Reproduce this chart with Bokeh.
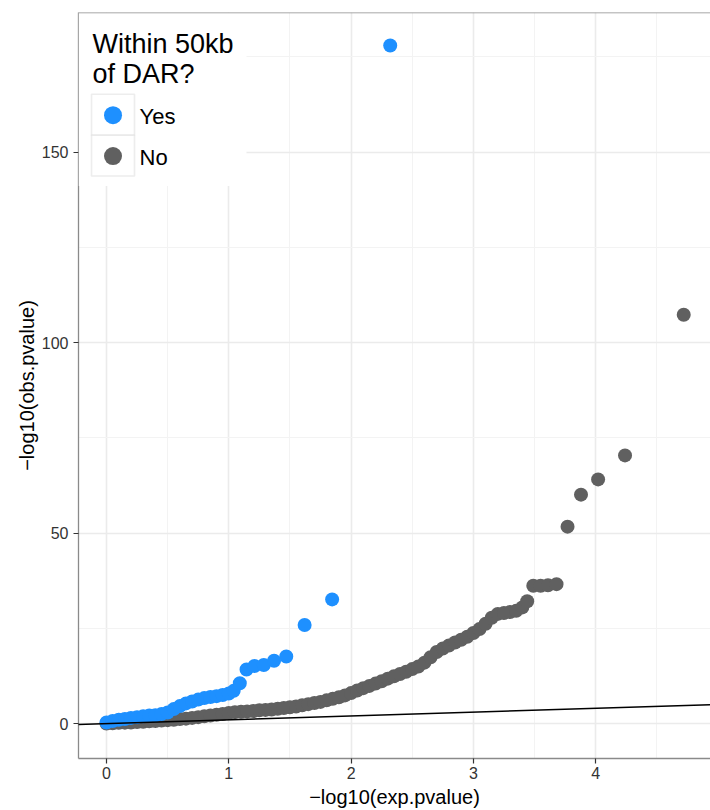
from bokeh.plotting import figure
from bokeh.models import (Range1d, SingleIntervalTicker, Slope, Span,
                          BoxAnnotation, Label)
from bokeh.embed import file_html
from bokeh.resources import INLINE

# ---------------- data ----------------
yes_x = [0.00, 0.05, 0.10, 0.15, 0.20, 0.25, 0.30, 0.35, 0.40, 0.45, 0.50,
         0.55, 0.60, 0.65, 0.70, 0.75, 0.80, 0.85, 0.90, 0.95, 1.00, 1.04,
         1.09, 1.145, 1.21, 1.286, 1.37, 1.47, 1.62, 1.845, 2.32]
yes_y = [0.3, 0.7, 1.0, 1.2, 1.5, 1.7, 1.9, 2.1, 2.2, 2.5, 2.9,
         3.8, 4.6, 5.3, 5.8, 6.3, 6.7, 7.0, 7.2, 7.5, 7.9, 8.6,
         10.6, 14.2, 15.1, 15.4, 16.5, 17.6, 25.9, 32.6, 178.0]

no_x = [0.00, 0.05, 0.10, 0.15, 0.20, 0.25, 0.30, 0.35, 0.40, 0.45, 0.50,
        0.55, 0.60, 0.65, 0.70, 0.75, 0.80, 0.85, 0.90, 0.95, 1.00, 1.05,
        1.10, 1.15, 1.20, 1.25, 1.30, 1.35, 1.40, 1.45, 1.50, 1.55, 1.60,
        1.65, 1.70, 1.75, 1.80, 1.85, 1.90, 1.95, 2.00, 2.05, 2.10, 2.15,
        2.20, 2.25, 2.30, 2.35, 2.40, 2.45, 2.50, 2.55, 2.60, 2.65, 2.70,
        2.75, 2.80, 2.85, 2.90, 2.95, 3.00, 3.05, 3.10, 3.15, 3.20, 3.25,
        3.30, 3.35, 3.40, 3.44, 3.49, 3.55, 3.61, 3.68, 3.77, 3.88, 4.02,
        4.24, 4.72]
no_y = [0.0, 0.1, 0.2, 0.25, 0.3, 0.4, 0.5, 0.6, 0.7, 0.8, 0.9,
        1.0, 1.2, 1.3, 1.5, 1.7, 1.9, 2.1, 2.3, 2.5, 2.8, 3.0,
        3.1, 3.2, 3.3, 3.5, 3.6, 3.7, 3.9, 4.1, 4.3, 4.5, 4.8,
        5.1, 5.4, 5.7, 6.1, 6.5, 6.9, 7.4, 8.0, 8.7, 9.3, 9.9,
        10.5, 11.1, 11.8, 12.4, 13.0, 13.6, 14.3, 15.0, 16.0, 17.4, 18.8,
        19.7, 20.5, 21.3, 22.0, 22.8, 23.8, 24.8, 26.2, 27.8, 28.8, 29.0,
        29.3, 29.6, 30.5, 32.1, 36.2, 36.2, 36.3, 36.6, 51.7, 60.1, 64.1,
        70.4, 107.3]

legend_title = ["Within 50kb", "of DAR?"]
legend_labels = ["Yes", "No"]
x_label = "\u2212log10(exp.pvalue)"
y_label = "\u2212log10(obs.pvalue)"

# ---------------- styling ----------------
YES_COLOR = "#1E90FF"
NO_COLOR = "#606060"
FONT = "Liberation Sans"

X_START, X_END = -0.229, 4.939
Y_START, Y_END = -9.16, 186.65

p = figure(width=710, height=810, output_backend="svg", toolbar_location=None,
           x_range=Range1d(X_START, X_END), y_range=Range1d(Y_START, Y_END),
           min_border_left=78, min_border_right=0, min_border_top=12,
           min_border_bottom=50)
p.outline_line_color = None
p.background_fill_color = "white"
p.border_fill_color = "white"

p.xaxis.ticker = SingleIntervalTicker(interval=1, num_minor_ticks=2)
p.yaxis.ticker = SingleIntervalTicker(interval=50, num_minor_ticks=2)

for ax in (p.xaxis[0], p.yaxis[0]):
    ax.axis_line_color = "#8a8a8a"
    ax.axis_line_width = 1.3
    ax.major_tick_line_color = "#333333"
    ax.major_tick_line_width = 1.2
    ax.major_tick_out = 5
    ax.major_tick_in = 0
    ax.minor_tick_line_color = None
    ax.major_label_text_font = FONT
    ax.major_label_text_font_size = "16px"
    ax.major_label_text_color = "#333333"
    ax.axis_label_text_font = FONT
    ax.axis_label_text_font_size = "20px"
    ax.axis_label_text_font_style = "normal"
    ax.axis_label_text_color = "black"
p.xaxis.axis_label = x_label
p.yaxis.axis_label = y_label
p.xaxis.major_label_standoff = 3
p.xaxis.axis_label_standoff = 4
p.yaxis.major_label_standoff = 5
p.yaxis.axis_label_standoff = 1

for g in (p.xgrid[0], p.ygrid[0]):
    g.grid_line_color = "#EBEBEB"
    g.grid_line_width = 1.6
    g.minor_grid_line_color = "#F3F3F3"
    g.minor_grid_line_width = 1.0

# top border of the panel
p.add_layout(Span(location=Y_END, dimension="width", line_color="#8a8a8a",
                  line_width=1.5, level="overlay"))

# points
p.scatter(no_x, no_y, size=14, fill_color=NO_COLOR, line_color=None)
p.scatter(yes_x, yes_y, size=14, fill_color=YES_COLOR, line_color=None)

# diagonal y = x
p.add_layout(Slope(gradient=1, y_intercept=0, line_color="black",
                   line_width=1.5))

# ---------------- legend (drawn inside the panel) ----------------
def lx(px):
    return (px - 106.0) / 122.3


def ly(py):
    return (725.0 - py) / 3.82


p.add_layout(BoxAnnotation(left=X_START, right=lx(246), bottom=ly(186),
                           top=Y_END, fill_color="white", fill_alpha=1.0,
                           line_color=None))
p.add_layout(Label(x=lx(92), y=ly(44), text=legend_title[0],
                   text_font=FONT, text_font_size="27px",
                   text_baseline="alphabetic", text_color="black"))
p.add_layout(Label(x=lx(92), y=ly(74), text=legend_title[1],
                   text_font=FONT, text_font_size="27px",
                   text_baseline="alphabetic", text_color="black"))
key_colors = [YES_COLOR, NO_COLOR]
for i, (lab, col) in enumerate(zip(legend_labels, key_colors)):
    top_px = 94 + 41 * i
    p.add_layout(BoxAnnotation(left=lx(91), right=lx(134), top=ly(top_px),
                               bottom=ly(top_px + 41), fill_color="white",
                               fill_alpha=1.0, line_color="#c4c4c4",
                               line_width=1.6))
    p.scatter([lx(112.5)], [ly(top_px + 21)], size=18, fill_color=col,
              line_color=None, level="overlay")
    p.add_layout(Label(x=lx(139), y=ly(top_px + 22), text=lab,
                       text_font=FONT, text_font_size="22px",
                       text_baseline="alphabetic", text_color="black"))

open("out.html", "w").write(file_html(p, INLINE))
